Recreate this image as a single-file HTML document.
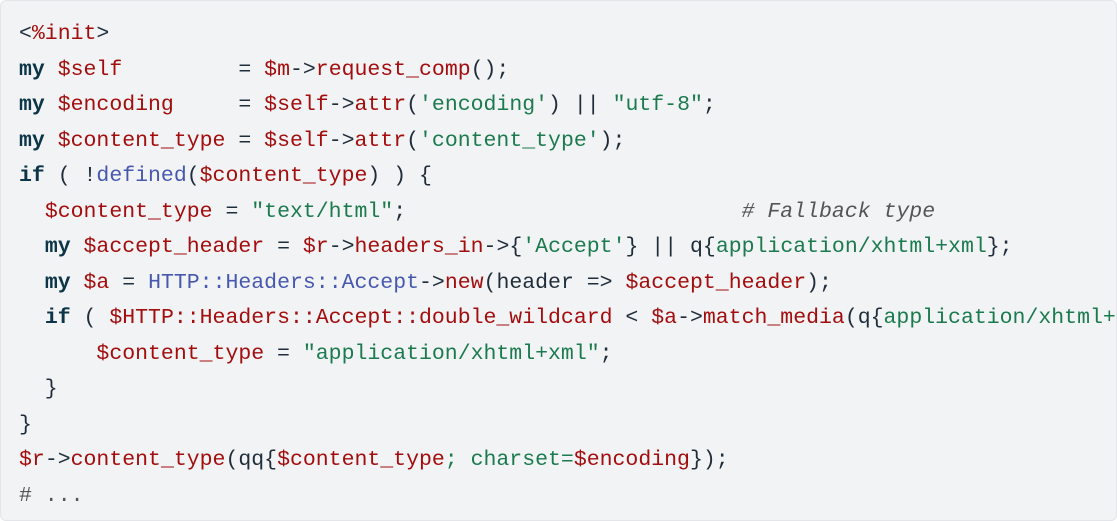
<!DOCTYPE html>
<html><head><meta charset="utf-8"><style>
html,body{margin:0;padding:0;background:#fff;}
.box{position:absolute;left:0;top:0;width:1117px;height:521px;background:#f2f3f5;border:1px solid #e3e5e8;border-radius:6px;box-sizing:border-box;overflow:hidden;}
pre{margin:0;position:absolute;left:18px;top:16px;font-family:"Liberation Mono","DejaVu Sans Mono",monospace;font-size:21.5px;line-height:35.5px;color:#1f2d3a;white-space:pre;}
.k{color:#0c3547;font-weight:bold}
.v{color:#a30d0d}
.s{color:#1b7a4e}
.b{color:#4758b0}
.c{color:#555;font-style:italic}
</style></head><body><div class="box"><pre>&lt;<span class="v">%init</span>&gt;
<span class="k">my</span> <span class="v">$self</span>         = <span class="v">$m</span>-&gt;<span class="v">request_comp</span>();
<span class="k">my</span> <span class="v">$encoding</span>     = <span class="v">$self</span>-&gt;<span class="v">attr</span>(<span class="s">'encoding'</span>) || <span class="s">"utf-8"</span>;
<span class="k">my</span> <span class="v">$content_type</span> = <span class="v">$self</span>-&gt;<span class="v">attr</span>(<span class="s">'content_type'</span>);
<span class="k">if</span> ( !<span class="b">defined</span>(<span class="v">$content_type</span>) ) {
  <span class="v">$content_type</span> = <span class="s">"text/html"</span>;                          <span class="c"># Fallback type</span>
  <span class="k">my</span> <span class="v">$accept_header</span> = <span class="v">$r</span>-&gt;<span class="v">headers_in</span>-&gt;{<span class="s">'Accept'</span>} || q{<span class="s">application/xhtml+xml</span>};
  <span class="k">my</span> <span class="v">$a</span> = <span class="b">HTTP::Headers::Accept</span>-&gt;<span class="v">new</span>(header =&gt; <span class="v">$accept_header</span>);
  <span class="k">if</span> ( <span class="v">$HTTP::Headers::Accept::double_wildcard</span> &lt; <span class="v">$a</span>-&gt;<span class="v">match_media</span>(q{<span class="s">application/xhtml+xml</span>}) ) {
      <span class="v">$content_type</span> = <span class="s">"application/xhtml+xml"</span>;
  }
}
<span class="v">$r</span>-&gt;<span class="v">content_type</span>(qq{<span class="v">$content_type</span><span class="s">; charset=</span><span class="v">$encoding</span>});
<span class="c" style="font-style:normal"># ...</span></pre></div></body></html>
